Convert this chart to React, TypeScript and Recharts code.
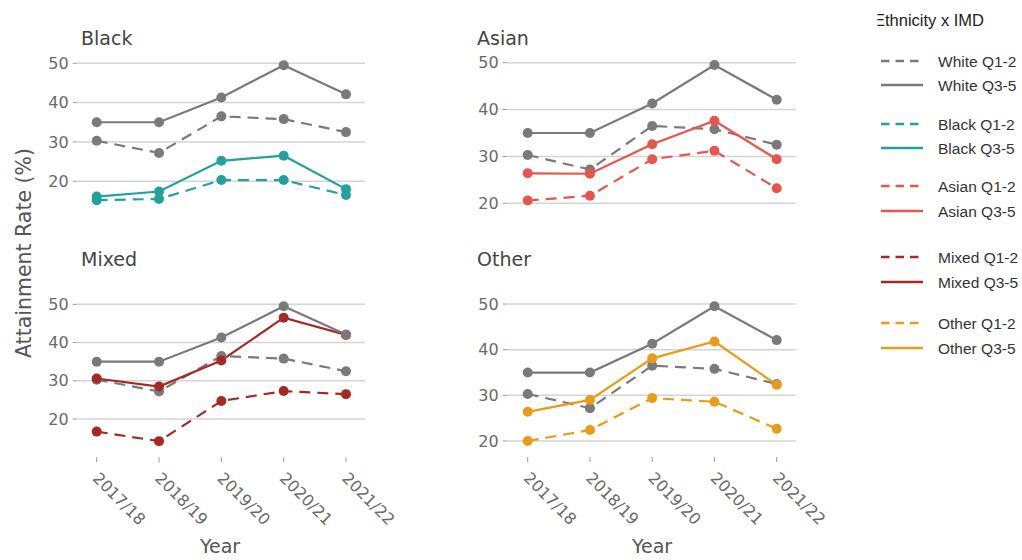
import React from 'react';
import { LineChart, Line, XAxis, YAxis, ReferenceLine } from 'recharts';

// School years on the shared x axis
const years = ['2017/18', '2018/19', '2019/20', '2020/21', '2021/22'];

// Attainment rate (%) by ethnicity and IMD quintile group
const whiteQ12 = [30.3, 27.2, 36.5, 35.8, 32.5];
const whiteQ35 = [35.0, 35.0, 41.3, 49.5, 42.1];
const blackQ12 = [15.2, 15.5, 20.3, 20.3, 16.5];
const blackQ35 = [16.1, 17.4, 25.2, 26.5, 18.0];
const asianQ12 = [20.6, 21.6, 29.4, 31.2, 23.2];
const asianQ35 = [26.4, 26.3, 32.6, 37.6, 29.4];
const mixedQ12 = [16.7, 14.2, 24.7, 27.3, 26.5];
const mixedQ35 = [30.6, 28.5, 35.3, 46.5, 42.0];
const otherQ12 = [20.0, 22.4, 29.4, 28.6, 22.7];
const otherQ35 = [26.4, 29.0, 38.1, 41.8, 32.3];

const yTicks = [20, 30, 40, 50];

const GREY = '#7a7a7a';
const TEAL = '#23a19c';
const RED = '#e8554a';
const DARK_RED = '#a52a24';
const ORANGE = '#e99c18';

const FONT = '"DejaVu Sans", sans-serif';
const LEGEND_FONT = '"Liberation Sans", Arial, sans-serif';

type Panel = {
  name: string;
  q12: number[];
  q35: number[];
  color: string;
  left: number;
  top: number;
  height: number;
  margin: { top: number; right: number; bottom: number; left: number };
  domain: [number, number];
  padding: { left: number; right: number };
  showX: boolean;
  titleX: number;
  titleY: number;
};

// Each chart is 290 px of plot area plus the y-axis column; the extra right
// margin leaves room for the slanted year labels.
const CHART_WIDTH = 460;

const panels: Panel[] = [
  {
    name: 'Black', q12: blackQ12, q35: blackQ35, color: TEAL,
    left: 0, top: 0, height: 230,
    margin: { top: 55.4, right: CHART_WIDTH - 365, bottom: 9.4, left: 0 },
    domain: [10, 52], padding: { left: 20, right: 19 }, showX: false,
    titleX: 81, titleY: 45,
  },
  {
    name: 'Asian', q12: asianQ12, q35: asianQ35, color: RED,
    left: 430, top: 0, height: 230,
    margin: { top: 53.3, right: CHART_WIDTH - 366, bottom: 10.3, left: 0 },
    domain: [16.5, 52], padding: { left: 21, right: 19.3 }, showX: false,
    titleX: 477, titleY: 45,
  },
  {
    name: 'Mixed', q12: mixedQ12, q35: mixedQ35, color: DARK_RED,
    left: 0, top: 240, height: 320,
    margin: { top: 56.7, right: CHART_WIDTH - 365, bottom: 42.8, left: 0 },
    domain: [10, 52], padding: { left: 20, right: 19 }, showX: true,
    titleX: 81, titleY: 266,
  },
  {
    name: 'Other', q12: otherQ12, q35: otherQ35, color: ORANGE,
    left: 430, top: 240, height: 320,
    margin: { top: 54.9, right: CHART_WIDTH - 366, bottom: 43, left: 0 },
    domain: [16.5, 52], padding: { left: 21, right: 19.3 }, showX: true,
    titleX: 477, titleY: 266,
  },
];

const legendItems = [
  { label: 'White Q1-2', color: GREY, dashed: true, y: 61 },
  { label: 'White Q3-5', color: GREY, dashed: false, y: 85 },
  { label: 'Black Q1-2', color: TEAL, dashed: true, y: 124 },
  { label: 'Black Q3-5', color: TEAL, dashed: false, y: 148 },
  { label: 'Asian Q1-2', color: RED, dashed: true, y: 186 },
  { label: 'Asian Q3-5', color: RED, dashed: false, y: 211 },
  { label: 'Mixed Q1-2', color: DARK_RED, dashed: true, y: 257 },
  { label: 'Mixed Q3-5', color: DARK_RED, dashed: false, y: 282 },
  { label: 'Other Q1-2', color: ORANGE, dashed: true, y: 323 },
  { label: 'Other Q3-5', color: ORANGE, dashed: false, y: 348 },
];

const DASH = '11 7';

const YearTick = (props: any) => {
  const { x, y, payload } = props;
  return (
    <text
      transform={`translate(${x - 5},${y + 15}) rotate(45)`}
      textAnchor="start"
      fill="#6a6a6a"
      fontSize={16}
      fontFamily={FONT}
    >
      {payload.value}
    </text>
  );
};

function PanelChart({ p }: { p: Panel }) {
  const data = years.map((year, i) => ({
    year,
    whiteQ12: whiteQ12[i],
    whiteQ35: whiteQ35[i],
    q12: p.q12[i],
    q35: p.q35[i],
  }));
  const dot = (c: string) => ({ r: 5, fill: c, stroke: c, strokeWidth: 0 });
  return (
    <div style={{ position: 'absolute', left: p.left, top: p.top }}>
      <LineChart width={CHART_WIDTH} height={p.height} data={data} margin={p.margin}>
        <XAxis
          dataKey="year"
          type="category"
          hide={!p.showX}
          padding={p.padding}
          axisLine={false}
          tickLine={{ stroke: '#9a9a9a' }}
          tickSize={5}
          tickMargin={2}
          interval={0}
          height={60}
          tick={<YearTick />}
        />
        <YAxis
          type="number"
          domain={p.domain}
          ticks={yTicks}
          allowDataOverflow
          width={76.7}
          axisLine={false}
          tickLine={{ stroke: '#9a9a9a' }}
          tickSize={4}
          tickMargin={4}
          tick={{ fill: '#6a6a6a', fontSize: 16, fontFamily: FONT }}
        />
        {yTicks.map((t) => (
          <ReferenceLine key={t} y={t} stroke="#d4d4d4" strokeWidth={1.5} />
        ))}
        <Line dataKey="q12" stroke={p.color} strokeWidth={2.2} strokeDasharray={DASH}
          dot={dot(p.color)} activeDot={false} isAnimationActive={false} />
        <Line dataKey="whiteQ12" stroke={GREY} strokeWidth={2.2} strokeDasharray={DASH}
          dot={dot(GREY)} activeDot={false} isAnimationActive={false} />
        <Line dataKey="q35" stroke={p.color} strokeWidth={2.2}
          dot={dot(p.color)} activeDot={false} isAnimationActive={false} />
        <Line dataKey="whiteQ35" stroke={GREY} strokeWidth={2.2}
          dot={dot(GREY)} activeDot={false} isAnimationActive={false} />
      </LineChart>
    </div>
  );
}

export default function App() {
  return (
    <div style={{ position: 'absolute', left: 0, top: 0, width: 1022, height: 560, background: '#fff', overflow: 'hidden' }}>
      {panels.map((p) => (
        <PanelChart key={p.name} p={p} />
      ))}
      <svg width={1022} height={560} style={{ position: 'absolute', left: 0, top: 0, pointerEvents: 'none' }}>
        {panels.map((p) => (
          <text key={p.name} x={p.titleX} y={p.titleY} fontSize={19} fontFamily={FONT} fill="#444">
            {p.name}
          </text>
        ))}
        <text x={220} y={553} textAnchor="middle" fontSize={19} fontFamily={FONT} fill="#555">Year</text>
        <text x={652} y={553} textAnchor="middle" fontSize={19} fontFamily={FONT} fill="#555">Year</text>
        <text transform="translate(31,253) rotate(-90)" textAnchor="middle" fontSize={20.5} fontFamily={FONT} fill="#555">
          Attainment Rate (%)
        </text>
        <defs>
          <clipPath id="legend-clip">
            <rect x={877.5} y={0} width={150} height={560} />
          </clipPath>
        </defs>
        <g clipPath="url(#legend-clip)">
          <text x={874} y={26} fontSize={16.5} fontFamily={LEGEND_FONT} fill="#222">Ethnicity x IMD</text>
        </g>
        {legendItems.map((it) => (
          <g key={it.label}>
            <line x1={881} x2={923} y1={it.y} y2={it.y} stroke={it.color} strokeWidth={2.5}
              strokeDasharray={it.dashed ? '8.5 6' : undefined} />
            <text x={938} y={it.y + 5.5} fontSize={15.5} fontFamily={LEGEND_FONT} fill="#333">{it.label}</text>
          </g>
        ))}
      </svg>
    </div>
  );
}
